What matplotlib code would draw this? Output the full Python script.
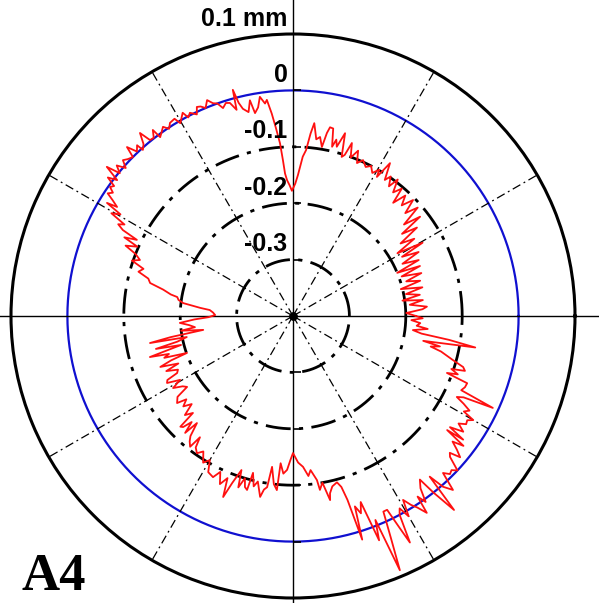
import numpy as np
import matplotlib
matplotlib.use("Agg")
import matplotlib.pyplot as plt

# radial deviation profile, angle in degrees (ccw from east), deviation in mm
angle_deg = [
    0, 1.5, 3, 4, 5.5, 7, 8, 9.5, 11, 12.5, 14, 15.5, 17, 18.5, 20, 21.5, 22.5,
    24, 25.5, 27, 28.5, 29.5, 31, 32.5, 34, 35.5, 37, 38, 39.5, 41, 42.5, 44,
    45.5, 47, 48.5, 49.5, 51, 52.5, 53.5, 55, 56, 57.6, 58.9, 59.5, 61, 62.5,
    64, 65.8, 67.3, 68.5, 70, 71.2, 72.2, 73, 74.1, 75.5, 76.2, 77, 77.9, 78.9,
    79.5, 80.3, 81.4, 82.5, 83.7, 84.5, 85.5, 86.5, 88, 89, 90.5,
    91.5, 92.5, 93.2, 93.7, 94.3, 95.2, 96.0, 96.9, 97.5, 98.6, 99.5, 100.6,
    101.3, 102.3, 103.6, 104.3, 104.9, 105.3, 106.5, 107.5, 108.6, 109.6, 110.6,
    111.7, 112.8, 113.8, 114.7, 115.5, 116.9, 117.8, 118.5, 119.5, 120.3, 121,
    122.5, 123.5, 124.5, 125.5, 126.6, 127, 128, 129.1, 129.9, 131, 132.1,
    132.4, 133.5, 134.5, 135.2, 136.5, 137.5, 138.5, 139.5, 140.5, 141.3,
    142.3, 143.2, 144, 144.8, 145.6, 146.5, 147.3, 148.2, 148.7, 149.5, 150.5,
    151.5, 152.3, 153.2, 154, 155, 156, 157.2, 158.5, 159.9, 161, 162.5, 164,
    165.5, 167, 168.5, 170, 170.7, 172, 173.3, 175, 175.9, 177.5, 179.3,
    180.8, 182, 183.5, 185, 186.5, 187.5, 188.8, 189.8, 190.7, 191.2, 192.5,
    193.5, 194.5, 196, 197, 198, 199.2, 200, 201, 202.5, 203.5, 205, 206.2,
    207, 208, 209.5, 211, 212.5, 213.8, 215, 216.9, 218, 219.5, 221, 222.5,
    224.1, 224.5, 225.3, 226.3, 227.3, 228.1, 229.5, 230.5, 231.8, 232.5,
    233.5, 235, 236.5, 238.5, 240, 241.5, 243.6, 245, 246.5, 248, 248.9, 250,
    251.5, 252.3, 253.5, 254.3, 255.2, 255.7, 257, 258, 259.7, 260.5, 261.4,
    262.1, 263.5, 264.7, 265.2, 266.5, 267.8, 269, 270,
    272, 273.8, 275.5, 276.5, 278.3, 278.8, 280, 281.4, 281.8, 283, 284.8,
    285.8, 286.5, 287.2, 288.0, 289.0, 290.0, 291.0, 292.0, 292.8, 293.8,
    294.8, 295.9, 296.7, 297.3, 298.2, 299.0, 300.0, 300.9, 302.0, 303.0,
    304.2, 304.6, 305.5, 306.5, 307.8, 308.5, 309.7, 310.4, 311.3, 312.6,
    313.7, 314.8, 315.8, 316.8, 318.1, 318.9, 319.8, 320.8, 321.8, 322.7,
    323.5, 324.0, 324.7, 325.8, 327.0, 328.0, 329.1, 330.0, 330.8, 331.8,
    332.8, 333.7, 334.5, 335.3, 336.2, 337.5, 338.9, 339.7, 340.5, 341.5,
    342.3, 343.3, 344.6, 345.5, 346.5, 347.5, 348.3, 349.2, 350.2, 351.3,
    352.2, 353.3, 354.5, 355.5, 356.8, 358, 359, 360,
]
deviation_mm = [
    -0.182, -0.199, -0.170, -0.162, -0.192, -0.168, -0.204, -0.172, -0.196,
    -0.165, -0.203, -0.166, -0.190, -0.160, -0.195, -0.158, -0.200, -0.156,
    -0.185, -0.150, -0.180, -0.136, -0.184, -0.145, -0.170, -0.130, -0.158,
    -0.114, -0.145, -0.107, -0.130, -0.104, -0.125, -0.108, -0.132, -0.103,
    -0.118, -0.095, -0.114, -0.098, -0.109, -0.079, -0.112, -0.099, -0.110,
    -0.100, -0.106, -0.097, -0.106, -0.085, -0.101, -0.076, -0.100, -0.105,
    -0.063, -0.090, -0.078, -0.092, -0.060, -0.059, -0.070, -0.096, -0.079,
    -0.084, -0.056, -0.075, -0.105, -0.117, -0.150, -0.165, -0.178,
    -0.168, -0.159, -0.147, -0.123, -0.093, -0.065, -0.039, -0.014, -0.020,
    -0.007, -0.025, -0.034, -0.010, -0.030, -0.022, -0.010, 0.015, -0.021,
    -0.006, -0.004, -0.011, 0.000, 0.003, 0.012, 0.000, 0.006, 0.008, -0.004,
    0.004, -0.002, 0.010, 0.002, -0.004, 0.008, 0.006, -0.002, 0.007, 0.001,
    -0.005, 0.013, 0.001, 0.002, 0.023, 0.004, -0.003, 0.010, 0.002, 0.020,
    0.000, 0.004, 0.009, -0.004, 0.011, -0.002, 0.023, -0.006, 0.010, -0.008,
    -0.003, -0.013, -0.006, -0.020, -0.033, -0.014, -0.045, -0.030, -0.060,
    -0.050, -0.062, -0.092, -0.070, -0.098, -0.078, -0.100, -0.111, -0.098,
    -0.122, -0.115, -0.135, -0.140, -0.165, -0.180, -0.192, -0.195, -0.204,
    -0.235, -0.252, -0.258, -0.262,
    -0.250, -0.225, -0.199, -0.215, -0.225, -0.200, -0.239, -0.180, -0.142,
    -0.208, -0.190, -0.150, -0.195, -0.136, -0.170, -0.160, -0.201, -0.170,
    -0.148, -0.180, -0.155, -0.175, -0.171, -0.150, -0.147, -0.170, -0.152,
    -0.168, -0.174, -0.150, -0.143, -0.160, -0.148, -0.162, -0.140, -0.153,
    -0.120, -0.123, -0.140, -0.118, -0.145, -0.120, -0.112, -0.105, -0.129,
    -0.110, -0.103, -0.112, -0.095, -0.105, -0.085, -0.081, -0.095, -0.075,
    -0.090, -0.056, -0.085, -0.112, -0.081, -0.100, -0.085, -0.081, -0.113,
    -0.090, -0.100, -0.074, -0.088, -0.093, -0.130, -0.100, -0.090, -0.138,
    -0.120, -0.127, -0.145, -0.157,
    -0.140, -0.132, -0.115, -0.125, -0.106, -0.088, -0.100, -0.067, -0.079,
    -0.090, -0.095, -0.085, -0.060, 0.015, -0.045, -0.030, -0.049, 0.026,
    -0.010, 0.089, 0.030, -0.018, -0.018, 0.020, 0.052, 0.000, -0.010, 0.010,
    -0.020, -0.005, 0.005, 0.022, -0.011, 0.005, -0.020, -0.033, 0.000, 0.047,
    -0.026, 0.003, 0.019, -0.015, -0.005, -0.008, 0.000, -0.026, -0.031,
    -0.012, -0.025, -0.040, -0.020, -0.060, -0.027, -0.059, -0.035, -0.050,
    -0.038, -0.040, -0.031, -0.053, -0.045, -0.060, -0.076, -0.065, -0.010,
    -0.074, -0.070, -0.069, -0.109, -0.090, -0.104, -0.080, -0.085, -0.106,
    -0.118, -0.130, -0.150, -0.134, -0.165, -0.072, -0.120, -0.170, -0.186,
    -0.160, -0.180, -0.174, -0.190, -0.170, -0.182,
]

ring_values = [-0.3, -0.2, -0.1]
ring_labels = ["0.1 mm", "0", "-0.1", "-0.2", "-0.3"]
label_values = [0.1, 0.0, -0.1, -0.2, -0.3]
spoke_deg = [30, 60, 120, 150, 210, 240, 300, 330]
r_min, r_max = -0.4, 0.1

fig = plt.figure(figsize=(5.99, 6.03), dpi=100)
ax = fig.add_axes([11 / 599, 5 / 603, 564 / 599, 564 / 603], projection="polar")
ax.set_ylim(r_min, r_max)
ax.grid(False)
ax.set_xticks([])
ax.set_yticks([])
ax.spines["polar"].set_linewidth(2.2)
ax.spines["polar"].set_color("black")

full = np.linspace(0, 2 * np.pi, 721)
for rv in ring_values:
    ax.plot(full, np.full_like(full, rv), color="black", lw=2.0,
            linestyle=(0, (9, 3, 1.5, 3)))
ax.plot(full, np.zeros_like(full), color="#1010d0", lw=1.6)

for a in spoke_deg:
    t = np.deg2rad(a)
    ax.plot([t, t], [r_min, r_max], color="black", lw=0.9,
            linestyle=(0, (7, 3, 1.5, 3)))

# main axes lines running across the whole figure
ax.plot([-0.05, 1.05], [0.5, 0.5], transform=ax.transAxes, color="black",
        lw=1.0, clip_on=False)
ax.plot([0.5, 0.5], [-0.05, 1.07], transform=ax.transAxes, color="black",
        lw=1.0, clip_on=False)

# small ticks on the vertical axis
tick_r = [0.1, 0.0, -0.1, -0.2, -0.3]
ax.plot([np.pi / 2] * 5, tick_r, ls="none", marker=1, ms=6, mew=1.2,
        color="black", clip_on=False)
ax.plot([3 * np.pi / 2] * 5, tick_r, ls="none", marker=1, ms=6, mew=1.2,
        color="black", clip_on=False)
ax.plot([np.pi / 2, 3 * np.pi / 2], [r_min, r_min], ls="none", marker="o",
        ms=5, color="black")

theta = np.deg2rad(angle_deg)
ax.plot(theta, deviation_mm, color="#ff1010", lw=1.3, zorder=5)

for txt, rv in zip(ring_labels, label_values):
    ax.annotate(txt, xy=(np.pi / 2, rv), xytext=(-4, 2.5),
                textcoords="offset points", ha="right", va="bottom",
                fontsize=18, fontweight="bold", family="Liberation Sans",
                annotation_clip=False, zorder=6)

fig.text(22 / 599, 1 - 590 / 603, "A4", fontsize=38, fontweight="bold",
         family="Liberation Serif", ha="left", va="baseline")

fig.savefig("out.png", dpi=100, facecolor="white")
